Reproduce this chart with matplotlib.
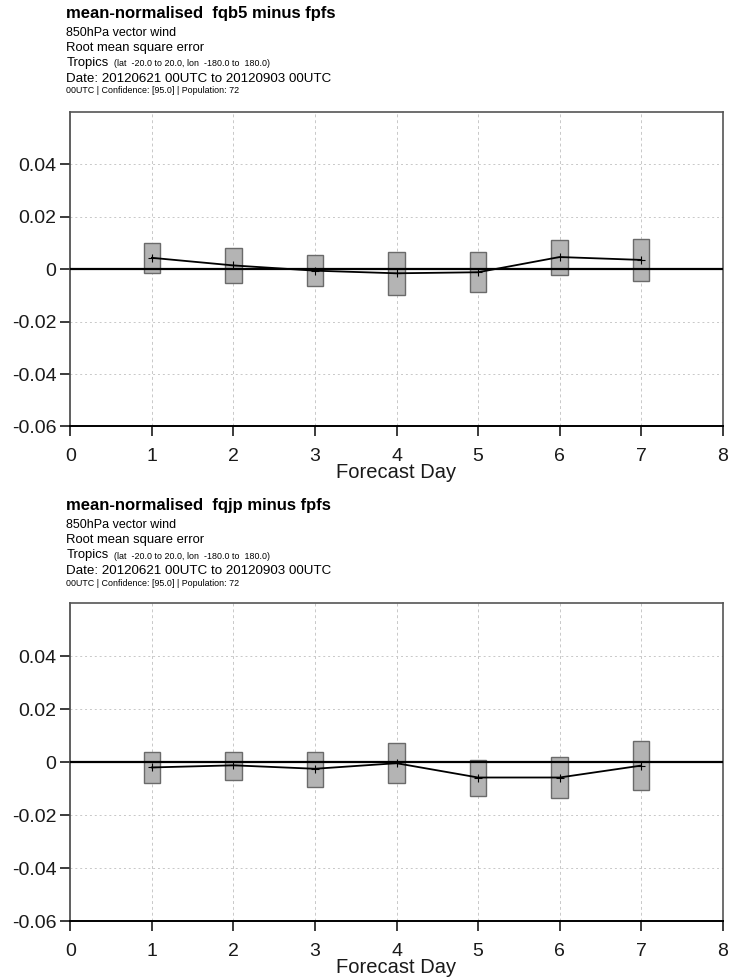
import matplotlib
matplotlib.use("Agg")
import matplotlib.pyplot as plt

plt.rcParams["font.family"] = ["Liberation Sans", "DejaVu Sans"]
plt.rcParams["axes.unicode_minus"] = False

# forecast days and confidence boxes (mean, lower, upper) per panel
days = [1, 2, 3, 4, 5, 6, 7]

fqb5_mean = [0.0043, 0.0014, -0.0006, -0.0016, -0.0012, 0.0046, 0.0035]
fqb5_low = [-0.0014, -0.0052, -0.0064, -0.0099, -0.0088, -0.0022, -0.0045]
fqb5_high = [0.0101, 0.0082, 0.0054, 0.0065, 0.0065, 0.0112, 0.0116]

fqjp_mean = [-0.0020, -0.0012, -0.0025, -0.0004, -0.0058, -0.0058, -0.0013]
fqjp_low = [-0.0077, -0.0069, -0.0092, -0.0080, -0.0126, -0.0135, -0.0104]
fqjp_high = [0.0037, 0.0040, 0.0040, 0.0072, 0.0010, 0.0018, 0.0079]

xticks = [0, 1, 2, 3, 4, 5, 6, 7, 8]
yticks = [-0.06, -0.04, -0.02, 0, 0.02, 0.04]
ytick_labels = ["-0.06", "-0.04", "-0.02", "0", "0.02", "0.04"]

header = {
    "sub1": "850hPa vector wind",
    "sub2": "Root mean square error",
    "region": "Tropics",
    "region_box": "(lat  -20.0 to 20.0, lon  -180.0 to  180.0)",
    "date": "Date: 20120621 00UTC to 20120903 00UTC",
    "info": "00UTC | Confidence: [95.0] | Population: 72",
}

panels = [
    ("mean-normalised  fqb5 minus fpfs", fqb5_mean, fqb5_low, fqb5_high),
    ("mean-normalised  fqjp minus fpfs", fqjp_mean, fqjp_low, fqjp_high),
]

W, H = 737, 980
fig = plt.figure(figsize=(W / 100, H / 100), dpi=100)

# pixel layout: (axes top, axes bottom, header top line y)
layout = [(111.7, 426.5, 13.3), (603.3, 921.0, 505.5)]
left_px, right_px = 70.3, 722.7
text_x = 66.5 / W


def draw_header(y0, title):
    fy = lambda py: 1 - py / H
    fig.text(text_x, fy(y0), title, fontsize=12, fontweight="bold", va="center")
    fig.text(text_x, fy(y0 + 19.5), header["sub1"], fontsize=9, va="center")
    fig.text(text_x, fy(y0 + 34.5), header["sub2"], fontsize=9.4, va="center")
    fig.text(text_x, fy(y0 + 49.5), header["region"], fontsize=9.4, va="center")
    fig.text(114 / W, fy(y0 + 50.5), header["region_box"], fontsize=6.4, va="center")
    fig.text(text_x, fy(y0 + 65.5), header["date"], fontsize=9.6, va="center")
    fig.text(text_x, fy(y0 + 77.5), header["info"], fontsize=6.4, va="center")


for (title, mean, low, high), (top, bot, ty) in zip(panels, layout):
    ax = fig.add_axes([left_px / W, 1 - bot / H, (right_px - left_px) / W, (bot - top) / H])
    ax.set_xlim(0, 8)
    ax.set_ylim(-0.06, 0.06)

    for x in xticks[1:-1]:
        ax.axvline(x, color="#c8c8c8", lw=0.7, ls=(0, (3, 3)), zorder=0)
    for y in [-0.04, -0.02, 0.02, 0.04]:
        ax.axhline(y, color="#c8c8c8", lw=0.7, ls=(0, (2, 3)), zorder=0)

    heights = [h - l for h, l in zip(high, low)]
    ax.bar(days, heights, bottom=low, width=0.2, color="#b4b4b4",
           edgecolor="#6a6a6a", linewidth=1.0, zorder=2)
    ax.axhline(0, color="black", lw=1.6, zorder=3)
    ax.plot(days, mean, color="black", lw=1.3, marker="+", ms=6, mew=0.8, zorder=4)

    ax.set_xticks(xticks)
    ax.set_xticklabels([str(x) for x in xticks])
    ax.set_yticks(yticks)
    ax.set_yticklabels(ytick_labels)
    ax.tick_params(direction="out", length=7, width=1.2, labelsize=14,
                   colors="#1a1a1a", pad=3)
    ax.tick_params(axis="x", pad=8.5)
    ax.set_xlabel("Forecast Day", fontsize=14.5, color="#1a1a1a")
    # top of the label box about 37 px under the axis line
    ax.xaxis.set_label_coords(0.5, -37.0 / (bot - top))

    for side in ["top", "right"]:
        ax.spines[side].set_color("#555555")
        ax.spines[side].set_linewidth(1.2)
    ax.spines["left"].set_color("#444444")
    ax.spines["left"].set_linewidth(1.2)
    ax.spines["bottom"].set_color("black")
    ax.spines["bottom"].set_linewidth(1.4)

    draw_header(ty, title)

fig.savefig("out.png", dpi=100)
